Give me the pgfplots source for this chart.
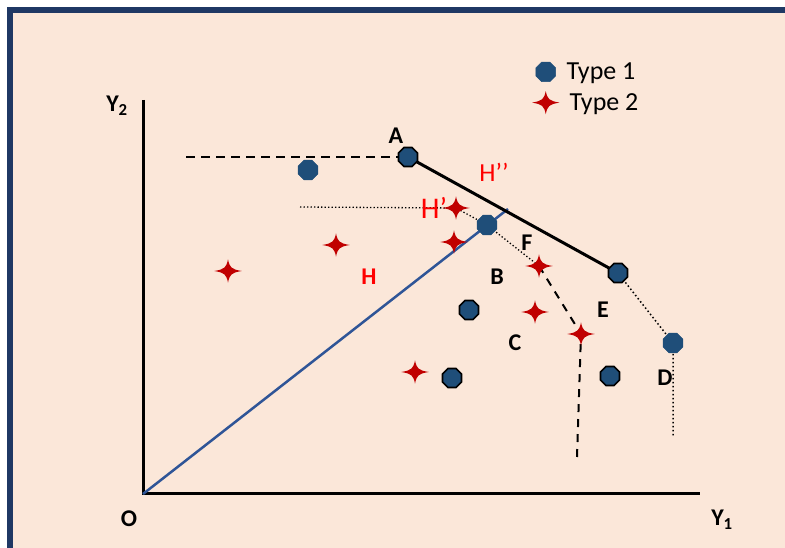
\documentclass[border=0pt]{standalone}
\usepackage{pgfplots}
\pgfplotsset{compat=1.18}
\usepackage{fontspec}
\setmainfont{Carlito}
\definecolor{peach}{HTML}{FBE7D9}
\definecolor{navy}{HTML}{1F3864}
\definecolor{mblue}{HTML}{1F4E79}
\definecolor{rayblue}{HTML}{2F5597}
\definecolor{sred}{HTML}{C00000}
\definecolor{tred}{HTML}{FF0000}
\pgfdeclareplotmark{oct}{%
  \pgfpathmoveto{\pgfpointpolar{22.5}{\pgfplotmarksize}}%
  \pgfpathlineto{\pgfpointpolar{67.5}{\pgfplotmarksize}}%
  \pgfpathlineto{\pgfpointpolar{112.5}{\pgfplotmarksize}}%
  \pgfpathlineto{\pgfpointpolar{157.5}{\pgfplotmarksize}}%
  \pgfpathlineto{\pgfpointpolar{202.5}{\pgfplotmarksize}}%
  \pgfpathlineto{\pgfpointpolar{247.5}{\pgfplotmarksize}}%
  \pgfpathlineto{\pgfpointpolar{292.5}{\pgfplotmarksize}}%
  \pgfpathlineto{\pgfpointpolar{337.5}{\pgfplotmarksize}}%
  \pgfpathclose
  \pgfusepathqfillstroke}
\pgfdeclareplotmark{star4}{%
  \pgfpathmoveto{\pgfpoint{1.25\pgfplotmarksize}{0pt}}%
  \pgfpathcurveto{\pgfpoint{0.3\pgfplotmarksize}{0.16\pgfplotmarksize}}{\pgfpoint{0.16\pgfplotmarksize}{0.3\pgfplotmarksize}}{\pgfpoint{0pt}{1.05\pgfplotmarksize}}%
  \pgfpathcurveto{\pgfpoint{-0.16\pgfplotmarksize}{0.3\pgfplotmarksize}}{\pgfpoint{-0.3\pgfplotmarksize}{0.16\pgfplotmarksize}}{\pgfpoint{-1.25\pgfplotmarksize}{0pt}}%
  \pgfpathcurveto{\pgfpoint{-0.3\pgfplotmarksize}{-0.16\pgfplotmarksize}}{\pgfpoint{-0.16\pgfplotmarksize}{-0.3\pgfplotmarksize}}{\pgfpoint{0pt}{-1.05\pgfplotmarksize}}%
  \pgfpathcurveto{\pgfpoint{0.16\pgfplotmarksize}{-0.3\pgfplotmarksize}}{\pgfpoint{0.3\pgfplotmarksize}{-0.16\pgfplotmarksize}}{\pgfpoint{1.25\pgfplotmarksize}{0pt}}%
  \pgfpathclose
  \pgfusepathqfill}
\begin{document}
\begin{tikzpicture}
\begin{axis}[
  scale only axis, width=785pt, height=548pt,
  xmin=-143, xmax=642, ymin=-54, ymax=494,
  hide axis, clip=false,
  legend style={at={(axis cs:389,406.5)}, anchor=west, draw=none, fill=none,
    inner sep=0pt, outer sep=0pt, row sep=8pt,
    font=\fontsize{26}{30}\selectfont},
  legend cell align=left,
]
% background
\fill[white] (axis cs:-143,-54) rectangle (axis cs:642,494);
\fill[navy] (axis cs:-136,-54) rectangle (axis cs:642,487);
\fill[peach] (axis cs:-130,-54) rectangle (axis cs:642,481);
% axes
\addplot[forget plot, black, line width=3pt] coordinates {(0,394) (0,0) (557,0)};
% ray
\addplot[forget plot, rayblue, line width=2.5pt] coordinates {(0,0) (365,285)};
% frontier lines
\addplot[forget plot, black, line width=2pt, dash pattern=on 9pt off 6pt] coordinates {(43,337) (265,337)};
\addplot[forget plot, black, line width=3pt] coordinates {(265,337) (475,221)};
\addplot[forget plot, black, line width=1.5pt, dash pattern=on 1.5pt off 2.5pt] coordinates {(475,221) (530,151) (530,57)};
\addplot[forget plot, black, line width=1.3pt, dash pattern=on 1.3pt off 2.2pt] coordinates {(157,287) (313,286) (344,269) (396,228)};
\addplot[forget plot, black, line width=2pt, dash pattern=on 8pt off 7pt] coordinates {(396,228) (438,160) (434,37)};
% type 1 plain
\addplot[only marks, mark=oct, mark size=10.6pt, mark options={fill=mblue, draw=mblue, line width=0.5pt}]
  coordinates {(165,324) (344,269) (530,151)};
\addlegendentry{\hspace{5pt}Type 1}
% type 2
\addplot[only marks, mark=star4, mark size=11pt, mark options={fill=sred, draw=none}]
  coordinates {(85,223) (193,249) (313,286) (311,252) (396,228) (392,182) (438,160) (272,122)};
\addlegendentry{\hspace{8pt}Type 2}
% type 1 outlined
\addplot[forget plot, only marks, mark=oct, mark size=10.3pt, mark options={fill=mblue, draw=black, line width=1.6pt}]
  coordinates {(265,337) (475,221) (326,184) (309,116) (467,118)};
% labels
\begin{scope}[font=\fontsize{24}{28}\selectfont\bfseries]
\node at (axis cs:253,358) {A};
\node at (axis cs:384,251) {F};
\node at (axis cs:354,217) {B};
\node at (axis cs:460,184) {E};
\node at (axis cs:372,151) {C};
\node at (axis cs:522,116) {D};
\node at (axis cs:-14,-25) {O};
\node at (axis cs:579,-26) {Y\textsubscript{1}};
\node at (axis cs:-26,388) {Y\textsubscript{2}};
\node[text=tred] at (axis cs:226,217) {H};
\end{scope}
\node[text=tred, font=\fontsize{26}{30}\selectfont] at (axis cs:351,322) {H’’};
\node[text=tred, font=\fontsize{30}{34}\selectfont] at (axis cs:291,286) {H’};
\end{axis}
\end{tikzpicture}
\end{document}
